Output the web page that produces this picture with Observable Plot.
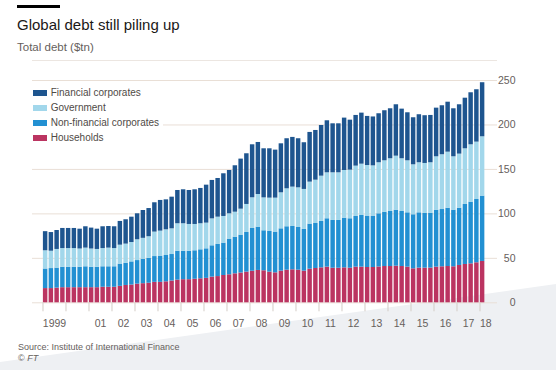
<!DOCTYPE html>
<html><head><meta charset="utf-8">
<script src="https://cdn.jsdelivr.net/npm/d3@7"></script>
<script src="https://cdn.jsdelivr.net/npm/@observablehq/plot@0.6"></script>
<style>
html,body{margin:0;padding:0;background:#fff;}
#page{position:relative;width:556px;height:370px;overflow:hidden;font-family:"Liberation Sans",Arial,sans-serif;}
#wedge{position:absolute;left:0;top:0;width:556px;height:370px;background:#eef0f3;clip-path:polygon(0 362px,556px 284px,556px 370px,0 370px);}
#topbar{position:absolute;left:17px;top:5px;width:43px;height:3px;background:#000;}
#title{position:absolute;left:17px;top:16.6px;font-size:15px;line-height:15px;color:#1a1817;white-space:nowrap;}
#subtitle{position:absolute;left:17px;top:42.3px;font-size:11.5px;line-height:11.5px;color:#66605c;white-space:nowrap;}
#topline{position:absolute;left:32px;top:60px;width:465px;height:1px;background:#ece6e1;}
#chart{position:absolute;left:0;top:62px;}
#legend{position:absolute;left:30px;top:84px;width:133px;height:61px;background:#fff;}
.row{position:absolute;left:0;height:15px;width:133px;}
.sw{position:absolute;left:3.3px;top:4.5px;width:14px;height:6px;}
.lab{position:absolute;left:20.7px;top:2.5px;font-size:10px;line-height:10px;color:#4f4a46;white-space:nowrap;}
#source{position:absolute;left:18px;top:343.4px;font-size:9px;line-height:9px;color:#66605c;white-space:nowrap;}
#copy{position:absolute;left:18px;top:353.9px;font-size:9px;line-height:9px;color:#66605c;white-space:nowrap;}
</style>
</head>
<body>
<div id="page">
  <div id="wedge"></div>
  <div id="topbar"></div>
  <div id="title">Global debt still piling up</div>
  <div id="subtitle">Total debt ($tn)</div>
  <div id="topline"></div>
  <div id="chart"></div>
  <div id="legend"></div>
  <div id="source">Source: Institute of International Finance</div>
  <div id="copy">© <i>FT</i></div>
</div>
<script>
// Quarterly, 1999 Q1 to 2018 Q1 ($tn)
const firstYear = 1999;
const seriesNames = ["Households", "Non-financial corporates", "Government", "Financial corporates"];
const seriesColors = ["#bb3461", "#2290d2", "#a2d7eb", "#1e558f"];
const legendOrder = ["Financial corporates", "Government", "Non-financial corporates", "Households"];

const households = [
  16,16,16.5,17,17,17,17,17,17,17,
  17.5,17.5,17.5,18.5,19.5,20,21,21.5,22,23,
  23,23.6,24.5,25.5,26,26,26.5,27,27.5,28.9,
  29.5,30.7,31.5,32.6,33.5,34.5,35.5,36.4,36,34.5,
  33.7,35.6,36.7,37.1,36.7,35.6,37.8,38.6,39.3,40.1,
  38.9,38.9,39.3,38.9,40.1,40.1,39.7,39.7,40.3,40.8,
  40.8,41.2,40.8,40.1,38.2,39,39,39,40.1,40.5,
  40.8,40.5,42,43.1,43.8,45,46.5];
const nonFinancial = [
  22,22.5,22.5,23,23,23,23,23.5,23,23,
  23,23,23,25,25,26,26.5,27.5,28,29,
  29.5,29.6,29.8,32.5,32,32,32,32.6,33.2,35.2,
  36.1,36.4,40.1,41.2,42.6,44.6,48.1,48.7,45,45.7,
  45.8,47.6,48.8,48.7,48,46.9,50.7,50.6,52.2,54.4,
  53.7,53.7,55.9,55.6,57,58.1,57.8,57.8,59.8,61.1,
  61.9,63,61.9,61.1,60.8,62.2,61.5,61.8,64.1,64.4,
  65.6,63.7,64.4,67.5,69.4,71.2,73.5];
const government = [
  20.5,19.5,21,21,21,21,20.5,21,20.5,20,
  20.5,21,20.5,21.3,21.5,21.8,23.4,23.5,24.3,27.5,
  28.1,28.9,28.9,30.9,30.9,30.1,29.6,29.3,28.9,30.3,
  30.7,30,28.5,28.1,29.2,31.5,34.5,36.7,37,37.5,
  38.2,40.5,42.7,44.3,44.6,45,47.2,48.7,50.9,51.7,
  53.6,53.6,53.6,54.7,56.6,57.7,56.9,56.5,57.4,57.8,
  59.3,60.7,59.3,58.5,56.2,56.3,56.2,56.7,60,61.6,
  63,60,60.8,62.6,64.5,64.5,66.7];
const financial = [
  21.5,21,21.3,22.6,22.6,22.6,22.3,24,23.5,22.8,
  24.5,24.3,24.5,26.7,27.4,28.5,29.2,31.3,31.7,33,
  34.5,33.7,35.6,37.4,38.2,38.2,39,39.7,42.7,43.2,
  43.5,48,48.7,52.2,56.3,57,59.6,58.5,55.2,55.5,
  54,55.1,56.3,55.9,55.2,52.5,55.9,55.9,57,58.5,
  55.1,55.1,58.9,56.2,57,57.4,55.2,55,55.1,56.3,
  56.2,57.8,55.8,54,52.9,54,53.7,53.2,54.7,55.1,
  56.2,54,55.5,56.9,58.5,58.9,60.8];

const yTicks = [0, 50, 100, 150, 200, 250];
const tickYears = d3.range(1999, 2019);
const xLabels = ["1999","01","02","03","04","05","06","07","08","09","10","11","12","13","14","15","16","17","18"];
const xLabelYears = [1999,2001,2002,2003,2004,2005,2006,2007,2008,2009,2010,2011,2012,2013,2014,2015,2016,2017,2018];

const series = [households, nonFinancial, government, financial];
const rows = [];
households.forEach((_, i) => {
  const t = firstYear + i / 4;
  let base = 0;
  series.forEach((s, k) => {
    rows.push({x1: t, x2: t + 0.25, y1: base, y2: base + s[i], series: seriesNames[k]});
    base += s[i];
  });
});

// label positions: middle of each year; the last (partial) year sits just after its tick
const labelPos = xLabelYears.map(y => y === 2018 ? 2018.25 : y + 0.5);
const labelMap = new Map(labelPos.map((p, i) => [p, xLabels[i]]));

const chart = Plot.plot({
  width: 556,
  height: 275,
  marginLeft: 32,
  marginRight: 59,
  marginTop: 18,
  marginBottom: 34.7,
  x: {domain: [1998.5435, 2018.7609], label: null},
  y: {domain: [0, 250], label: null},
  color: {domain: seriesNames, range: seriesColors},
  style: {fontFamily: '"Liberation Sans", Arial, sans-serif', fontSize: "10.5px", color: "#66605c", background: "transparent", overflow: "visible"},
  marks: [
    Plot.ruleY(yTicks, {stroke: "#e9dfd6", strokeWidth: 1}),
    Plot.rect(rows, {x1: "x1", x2: "x2", y1: "y1", y2: "y2", fill: "series", insetLeft: 0.4, insetRight: 0.9}),
    Plot.axisY(yTicks, {anchor: "right", tickSize: 0, tickPadding: 0, textAnchor: "end", dx: 18, label: null, fill: "#66605c"}),
    Plot.axisX(tickYears, {tickSize: 9, stroke: "#d3ccc6", tickFormat: () => "", label: null}),
    Plot.axisX(labelPos, {tickSize: 0, tickPadding: 17, tickFormat: d => labelMap.get(d), label: null, fill: "#66605c"})
  ]
});
document.getElementById("chart").appendChild(chart);

const legend = document.getElementById("legend");
legendOrder.forEach((name, i) => {
  const row = document.createElement("div");
  row.className = "row";
  row.style.top = (1 + i * 15) + "px";
  const sw = document.createElement("div");
  sw.className = "sw";
  sw.style.background = seriesColors[seriesNames.indexOf(name)];
  const lab = document.createElement("div");
  lab.className = "lab";
  lab.textContent = name;
  row.appendChild(sw);
  row.appendChild(lab);
  legend.appendChild(row);
});
</script>
</body></html>
